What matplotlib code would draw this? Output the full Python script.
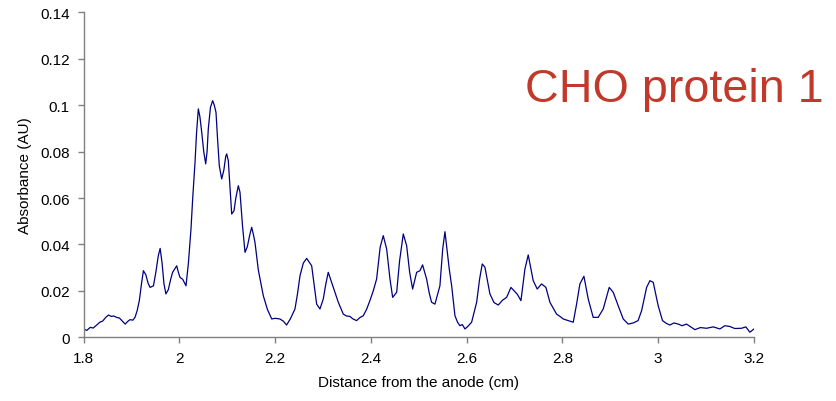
import matplotlib
matplotlib.use("Agg")
import matplotlib.pyplot as plt

# Densitometry trace
distance_cm = [
    1.800, 1.807, 1.814, 1.820, 1.827, 1.834, 1.840, 1.846, 1.852, 1.858,
    1.863, 1.869, 1.875, 1.881, 1.887, 1.892, 1.897, 1.903, 1.9075, 1.912,
    1.9165, 1.921, 1.925, 1.930, 1.935, 1.939, 1.946, 1.951, 1.956, 1.960,
    1.964, 1.968, 1.972, 1.977, 1.982, 1.986, 1.9946, 1.998, 2.0015, 2.007,
    2.014, 2.019, 2.0244, 2.028, 2.0328, 2.036, 2.0397, 2.043, 2.0468, 2.051,
    2.0551, 2.058, 2.0605, 2.065, 2.0697, 2.073, 2.0766, 2.080, 2.0835, 2.0885,
    2.093, 2.097, 2.099, 2.1023, 2.106, 2.1094, 2.1142, 2.118, 2.1232, 2.1267,
    2.132, 2.1372, 2.142, 2.147, 2.1511, 2.155, 2.158, 2.165, 2.1754, 2.184,
    2.193, 2.200, 2.210, 2.217, 2.224, 2.232, 2.2415, 2.247, 2.252, 2.259,
    2.266, 2.2764, 2.282, 2.2868, 2.2937, 2.3006, 2.306, 2.311, 2.3215, 2.332,
    2.3424, 2.349, 2.3563, 2.362, 2.3702, 2.377, 2.3841, 2.391, 2.398, 2.405,
    2.412, 2.4194, 2.4259, 2.433, 2.440, 2.4455, 2.4539, 2.460, 2.4677, 2.4747,
    2.481, 2.4872, 2.4956, 2.5025, 2.508, 2.5164, 2.522, 2.5268, 2.5338, 2.5442,
    2.550, 2.5547, 2.5637, 2.5687, 2.5756, 2.581, 2.586, 2.591, 2.5965, 2.603,
    2.6104, 2.6209, 2.627, 2.6326, 2.6382, 2.6486, 2.657, 2.666, 2.675, 2.6835,
    2.6925, 2.6988, 2.706, 2.7134, 2.7217, 2.7286, 2.739, 2.7474, 2.7565, 2.7655,
    2.7739, 2.7878, 2.795, 2.8017, 2.812, 2.8226, 2.8296, 2.8365, 2.8449, 2.8539,
    2.8643, 2.8747, 2.8852, 2.8977, 2.9061, 2.9165, 2.927, 2.9374, 2.948, 2.958,
    2.9654, 2.9758, 2.9827, 2.9896, 3.000, 3.009, 3.017, 3.0245, 3.033, 3.0418,
    3.050, 3.0593, 3.068, 3.0766, 3.088, 3.101, 3.115, 3.1288, 3.139, 3.149,
    3.160, 3.174, 3.183, 3.1914, 3.200,
]
absorbance_au = [
    0.0036, 0.0030, 0.0043, 0.0040, 0.0052, 0.0065, 0.0070, 0.0085, 0.0096, 0.0090,
    0.0092, 0.0086, 0.0083, 0.0070, 0.0057, 0.0068, 0.0076, 0.0074, 0.0086, 0.0115,
    0.0158, 0.0230, 0.0287, 0.0270, 0.0232, 0.0215, 0.0222, 0.0280, 0.0350, 0.0383,
    0.0320, 0.0230, 0.0187, 0.0205, 0.0250, 0.0280, 0.0308, 0.0280, 0.0258, 0.0250,
    0.0222, 0.0320, 0.0467, 0.0600, 0.0754, 0.0880, 0.0984, 0.0950, 0.0883, 0.0800,
    0.0747, 0.0800, 0.0897, 0.0990, 0.1019, 0.1000, 0.0969, 0.0850, 0.0739, 0.0682,
    0.0720, 0.0780, 0.0790, 0.0761, 0.0640, 0.0531, 0.0545, 0.0600, 0.0653, 0.0625,
    0.0480, 0.0366, 0.0390, 0.0440, 0.0474, 0.0440, 0.0409, 0.0290, 0.0179, 0.0120,
    0.0079, 0.0082, 0.0079, 0.0070, 0.0053, 0.0080, 0.0122, 0.0190, 0.0265, 0.0320,
    0.0340, 0.0308, 0.0220, 0.0143, 0.0122, 0.0165, 0.0230, 0.0280, 0.0215, 0.0151,
    0.0100, 0.0092, 0.0090, 0.0080, 0.0072, 0.0085, 0.0093, 0.0120, 0.0158, 0.0200,
    0.0251, 0.0388, 0.0438, 0.0380, 0.0250, 0.0172, 0.0194, 0.0330, 0.0445, 0.0395,
    0.0280, 0.0208, 0.0280, 0.0287, 0.0312, 0.0251, 0.0190, 0.0151, 0.0143, 0.0222,
    0.0380, 0.0455, 0.0294, 0.0222, 0.0093, 0.0065, 0.0050, 0.0055, 0.0036, 0.0048,
    0.0065, 0.0151, 0.0250, 0.0316, 0.0302, 0.0187, 0.0150, 0.0139, 0.0160, 0.0172,
    0.0215, 0.0201, 0.0185, 0.0158, 0.0294, 0.0355, 0.0244, 0.0208, 0.0230, 0.0215,
    0.0151, 0.0100, 0.0090, 0.0079, 0.0072, 0.0065, 0.0143, 0.0230, 0.0263, 0.0165,
    0.0086, 0.0086, 0.0122, 0.0215, 0.0194, 0.0136, 0.0079, 0.0057, 0.0062, 0.0072,
    0.0115, 0.0215, 0.0244, 0.0237, 0.0136, 0.0072, 0.0060, 0.0053, 0.0062, 0.0057,
    0.0050, 0.0057, 0.0045, 0.0033, 0.0042, 0.0039, 0.0045, 0.0036, 0.0050, 0.0047,
    0.0038, 0.0039, 0.0045, 0.0022, 0.0036,
]

x_ticks = [1.8, 2.0, 2.2, 2.4, 2.6, 2.8, 3.0, 3.2]
x_tick_labels = ["1.8", "2", "2.2", "2.4", "2.6", "2.8", "3", "3.2"]
y_ticks = [0, 0.02, 0.04, 0.06, 0.08, 0.1, 0.12, 0.14]
y_tick_labels = ["0", "0.02", "0.04", "0.06", "0.08", "0.1", "0.12", "0.14"]

plt.rcParams['font.family'] = ['Liberation Sans', 'DejaVu Sans']

fig = plt.figure(figsize=(8.37, 4.02), dpi=100)
ax = fig.add_axes([0.0998, 0.1584, 0.801, 0.8086])

ax.plot(distance_cm, absorbance_au, color='#000080', linewidth=0.9)

ax.set_xlim(1.8, 3.2)
ax.set_ylim(0, 0.14)
ax.set_xticks(x_ticks)
ax.set_xticklabels(x_tick_labels)
ax.set_yticks(y_ticks)
ax.set_yticklabels(y_tick_labels)

for side in ['top', 'right']:
    ax.spines[side].set_visible(False)
for side in ['left', 'bottom']:
    ax.spines[side].set_color('#808080')
    ax.spines[side].set_linewidth(1.0)

ax.tick_params(axis='both', direction='out', length=4, width=1,
               color='#808080', labelsize=11, labelcolor='black', pad=6)

ax.set_xlabel('Distance from the anode (cm)', fontsize=11, labelpad=7)
ax.set_ylabel('Absorbance (AU)', fontsize=11, labelpad=6)

fig.text(0.627, 0.747, 'CHO protein 1', color='#C0392B', fontsize=33.7,
         ha='left', va='baseline')

fig.savefig('out.png', dpi=100, facecolor='white')
